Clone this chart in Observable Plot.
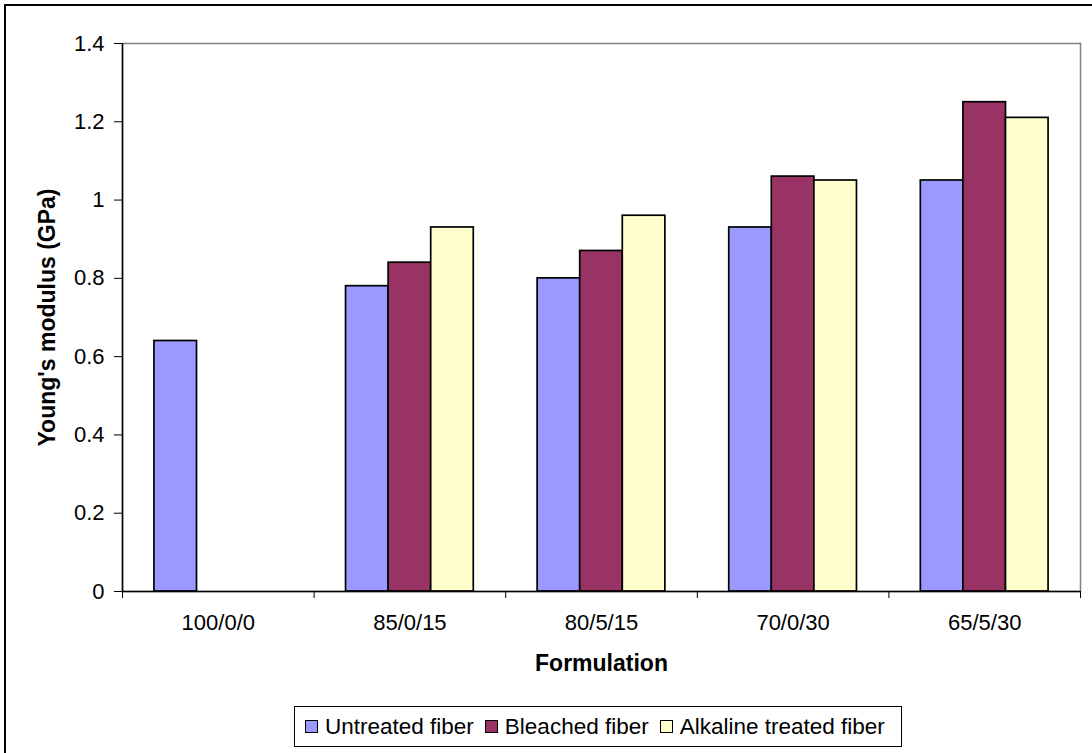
<!DOCTYPE html>
<html>
<head>
<meta charset="utf-8">
<script src="https://cdn.jsdelivr.net/npm/d3@7"></script>
<script src="https://cdn.jsdelivr.net/npm/@observablehq/plot@0.6"></script>
<style>
  html, body { margin: 0; padding: 0; background: #fff; overflow: hidden; }
  body { width: 1092px; height: 753px; position: relative; font-family: "Liberation Sans", Arial, sans-serif; }
  #outer { position: absolute; left: 4px; top: 4px; width: 1100px; height: 760px; border: 2px solid #000; box-sizing: border-box; }
  #chart { position: absolute; left: 0; top: 0; }
  #legend { position: absolute; left: 294px; top: 706px; width: 608px; height: 41px; box-sizing: border-box;
            border: 1.5px solid #000; display: flex; align-items: center; justify-content: flex-start;
            padding-left: 10px; font-size: 22.5px; color: #000; background: #fff; white-space: nowrap; }
  .item { display: flex; align-items: center; margin-right: 11px; }
  .sw { width: 13px; height: 13px; border: 1.5px solid #000; box-sizing: border-box; margin-right: 7px; }
</style>
</head>
<body>
<div id="outer"></div>
<div id="chart"></div>
<div id="legend"></div>
<script>
const categories = ["100/0/0", "85/0/15", "80/5/15", "70/0/30", "65/5/30"];
const seriesNames = ["Untreated fiber", "Bleached fiber", "Alkaline treated fiber"];
const seriesColors = ["#9999FF", "#993366", "#FFFFCC"];
const untreated = [0.64, 0.78, 0.80, 0.93, 1.05];
const bleached  = [null, 0.84, 0.87, 1.06, 1.25];
const alkaline  = [null, 0.93, 0.96, 1.05, 1.21];
const yTicks = [0, 0.2, 0.4, 0.6, 0.8, 1, 1.2, 1.4];
const yTickLabels = ["0", "0.2", "0.4", "0.6", "0.8", "1", "1.2", "1.4"];

// Excel-style clustered bars: gap width 150% => each bar is 1/4.5 of the category band
const gap = 1.5;
const nSeries = seriesNames.length;
const barW = 1 / (nSeries + gap);
const values = [untreated, bleached, alkaline];
const rows = [];
values.forEach((arr, si) => arr.forEach((v, ci) => {
  if (v != null) rows.push({
    series: seriesNames[si],
    x1: ci + (gap / 2) * barW + si * barW,
    x2: ci + (gap / 2) * barW + (si + 1) * barW,
    value: v
  });
}));
const boundaries = d3.range(categories.length + 1);
const centers = categories.map((c, i) => i + 0.5);

const plot = Plot.plot({
  width: 1092,
  height: 700,
  marginLeft: 122,
  marginRight: 12,
  marginTop: 43,
  marginBottom: 109,
  style: { fontFamily: "'Liberation Sans', Arial, sans-serif", background: "transparent", color: "#000" },
  x: { type: "linear", domain: [0, categories.length] },
  y: { domain: [0, 1.4] },
  color: { domain: seriesNames, range: seriesColors },
  marks: [
    Plot.frame({ stroke: "#808080", strokeWidth: 1.5 }),
    Plot.rectY(rows, { x1: "x1", x2: "x2", y1: 0, y2: "value", fill: "series", stroke: "#000", strokeWidth: 1.7 }),
    Plot.ruleX([0], { stroke: "#000", strokeWidth: 1.5 }),
    Plot.ruleY([0], { stroke: "#000", strokeWidth: 1.5 }),
    Plot.axisY({ ticks: yTicks, tickFormat: d => yTickLabels[yTicks.indexOf(d)], tickSize: 8, tickPadding: 10,
                 fontSize: 22, label: "Young's modulus (GPa)", labelAnchor: "center", labelOffset: 84, labelArrow: "none" }),
    Plot.axisX({ ticks: boundaries, tickFormat: () => "", tickSize: 7, label: null }),
    Plot.axisX({ ticks: centers, tickFormat: d => categories[Math.round(d - 0.5)], tickSize: 0, tickPadding: 23,
                 fontSize: 22, label: "Formulation", labelAnchor: "center", labelOffset: 79, labelArrow: "none" })
  ]
});
// bold axis titles
d3.select(plot).selectAll("text").each(function () {
  const t = d3.select(this).text();
  if (t === "Young's modulus (GPa)" || t === "Formulation") {
    d3.select(this).attr("font-weight", "bold").attr("font-size", 23);
  }
});
document.getElementById("chart").appendChild(plot);

const legend = d3.select("#legend");
seriesNames.forEach((name, i) => {
  const item = legend.append("div").attr("class", "item");
  item.append("div").attr("class", "sw").style("background", seriesColors[i]);
  item.append("span").text(name);
});
</script>
</body>
</html>
